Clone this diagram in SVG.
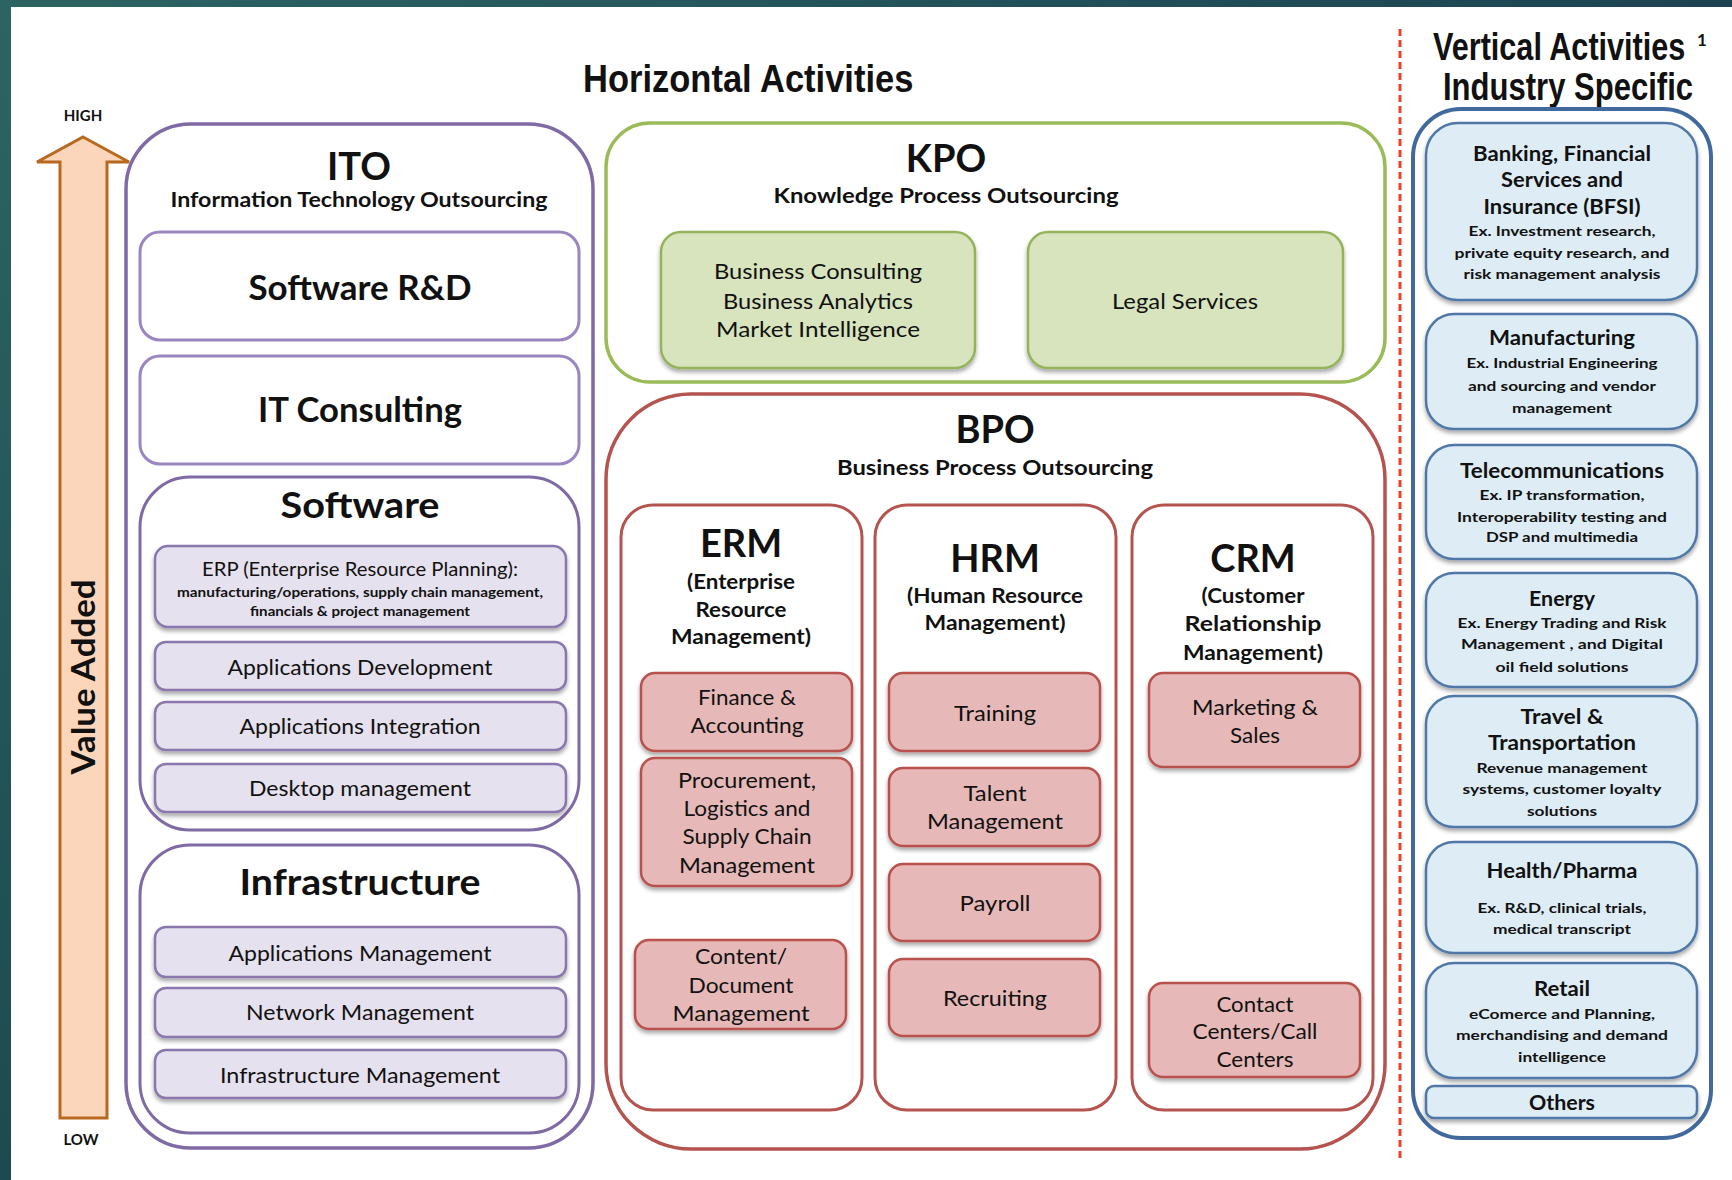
<svg xmlns="http://www.w3.org/2000/svg" width="1732" height="1180" viewBox="0 0 1732 1180">
<defs>
<linearGradient id="band" x1="0" y1="0" x2="1" y2="0"><stop offset="0" stop-color="#2c6463"/><stop offset="1" stop-color="#1c4352"/></linearGradient>
<linearGradient id="bandL" x1="0" y1="0" x2="0" y2="1"><stop offset="0" stop-color="#2c6463"/><stop offset="1" stop-color="#1d4a50"/></linearGradient>
<filter id="sh" x="-10%" y="-10%" width="120%" height="140%"><feDropShadow dx="0" dy="3" stdDeviation="2" flood-color="#000" flood-opacity="0.35"/></filter>
</defs>
<style>
text{font-family:Lato,"Open Sans","Liberation Sans",sans-serif;fill:#111;text-anchor:middle}
.b{font-weight:700}
.n{font-family:"Liberation Sans",Arial,sans-serif;font-weight:700;text-anchor:start;font-size:39px}
.t1{font-size:38px;font-weight:700}
.t2{font-size:20px;font-weight:700}
.r{font-size:21px}
.vt{font-size:20px;font-weight:700}
.vs{font-size:14px;font-weight:700}
.ito{fill:#fff;stroke:#7f6aa5;stroke-width:3.5}
.itc{fill:#fff;stroke:#7f6aa5;stroke-width:3}
.itw{fill:#fff;stroke:#9a86c0;stroke-width:3}
.lav{fill:#e6e1ee;stroke:#8a77ae;stroke-width:2.5;filter:url(#sh)}
.kpo{fill:#fff;stroke:#9bbb59;stroke-width:3.5}
.grn{fill:#d8e4bd;stroke:#94b35a;stroke-width:2.5;filter:url(#sh)}
.bpo{fill:#fff;stroke:#b5534f;stroke-width:3.5}
.bpi{fill:#fff;stroke:#b5534f;stroke-width:3}
.pnk{fill:#e6b9b8;stroke:#b9514d;stroke-width:2.5;filter:url(#sh)}
.vo{fill:#fff;stroke:#41699d;stroke-width:4}
.blu{fill:#deedf5;stroke:#4f78a9;stroke-width:2.5;filter:url(#sh)}
</style>
<rect x="0" y="0" width="1732" height="1180" fill="#fff"/>
<rect x="0" y="0" width="1732" height="7" fill="url(#band)"/>
<rect x="0" y="0" width="11" height="1180" fill="url(#bandL)"/>

<g id="titles">
<text class="n" transform="translate(583,92) scale(0.885,1)">Horizontal Activities</text>
<text class="n" transform="translate(1433,60) scale(0.785,1)">Vertical Activities</text>
<text x="1702" y="46" font-family="Liberation Sans, Arial, sans-serif" font-weight="700" font-size="17">1</text>
<text class="n" transform="translate(1443,100) scale(0.796,1)">Industry Specific</text>
</g>

<g id="value-axis">
<polygon points="83,137 129,162 107,162 107,1118 60,1118 60,162 37,162" fill="#fbd6bb" stroke="#b8691f" stroke-width="3"/>
<text transform="translate(83,677) rotate(-90)" y="12" font-family="Liberation Sans, Arial, sans-serif" font-weight="700" font-size="33" textLength="195" lengthAdjust="spacingAndGlyphs">Value Added</text>
<text class="b" x="83" y="121" font-size="15">HIGH</text>
<text class="b" x="81" y="1145" font-size="15">LOW</text>
</g>

<g id="divider">
<line x1="1400" y1="29" x2="1400" y2="1158" stroke="#e8412c" stroke-width="3" stroke-dasharray="7 4"/>
</g>

<g id="ito">
<rect class="ito" x="126" y="124" width="467" height="1024" rx="65"/>
<text class="t1" x="359" y="180">ITO</text>
<text class="t2" x="359" y="207" textLength="377" lengthAdjust="spacingAndGlyphs">Information Technology Outsourcing</text>
</g>
<g id="software-rd">
<rect class="itw" x="140" y="232" width="439" height="108" rx="20"/>
<text class="b" x="360" y="300" font-size="34" textLength="223" lengthAdjust="spacingAndGlyphs">Software R&amp;D</text>
</g>
<g id="it-consulting">
<rect class="itw" x="140" y="356" width="439" height="108" rx="20"/>
<text class="b" x="360" y="422" font-size="34" textLength="204" lengthAdjust="spacingAndGlyphs">IT Consulting</text>
</g>
<g id="software">
<rect class="itc" x="140" y="477" width="439" height="353" rx="50"/>
<text class="b" x="360" y="518" font-size="37" textLength="159" lengthAdjust="spacingAndGlyphs">Software</text>
</g>
<g id="erp">
<rect class="lav" x="155" y="546" width="411" height="81" rx="13"/>
<text x="360" y="576" font-size="19" textLength="316" lengthAdjust="spacingAndGlyphs">ERP (Enterprise Resource Planning):</text>
<text class="b" x="360" y="597" font-size="12.5" textLength="366" lengthAdjust="spacingAndGlyphs">manufacturing/operations, supply chain management,</text>
<text class="b" x="360" y="616" font-size="12.5" textLength="220" lengthAdjust="spacingAndGlyphs">financials &amp; project management</text>
</g>
<g id="app-dev">
<rect class="lav" x="155" y="642" width="411" height="48" rx="11"/>
<text class="r" x="360" y="675" textLength="265" lengthAdjust="spacingAndGlyphs">Applications Development</text>
</g>
<g id="app-int">
<rect class="lav" x="155" y="702" width="411" height="48" rx="11"/>
<text class="r" x="360" y="734" textLength="241" lengthAdjust="spacingAndGlyphs">Applications Integration</text>
</g>
<g id="desktop">
<rect class="lav" x="155" y="764" width="411" height="48" rx="11"/>
<text class="r" x="360" y="796" textLength="222" lengthAdjust="spacingAndGlyphs">Desktop management</text>
</g>
<g id="infrastructure">
<rect class="itc" x="140" y="845" width="439" height="288" rx="50"/>
<text class="b" x="360" y="895" font-size="37" textLength="241" lengthAdjust="spacingAndGlyphs">Infrastructure</text>
</g>
<g id="app-mgmt">
<rect class="lav" x="155" y="927" width="411" height="50" rx="11"/>
<text class="r" x="360" y="961" textLength="263" lengthAdjust="spacingAndGlyphs">Applications Management</text>
</g>
<g id="net-mgmt">
<rect class="lav" x="155" y="988" width="411" height="49" rx="11"/>
<text class="r" x="360" y="1020" textLength="228" lengthAdjust="spacingAndGlyphs">Network Management</text>
</g>
<g id="infra-mgmt">
<rect class="lav" x="155" y="1050" width="411" height="48" rx="11"/>
<text class="r" x="360" y="1083" textLength="280" lengthAdjust="spacingAndGlyphs">Infrastructure Management</text>
</g>

<g id="kpo">
<rect class="kpo" x="606" y="123" width="779" height="259" rx="44"/>
<text class="t1" x="946" y="172">KPO</text>
<text class="t2" x="946" y="203" textLength="345" lengthAdjust="spacingAndGlyphs">Knowledge Process Outsourcing</text>
</g>
<g id="kpo-business">
<rect class="grn" x="661" y="232" width="314" height="136" rx="20"/>
<text class="r" x="818" y="279" textLength="208" lengthAdjust="spacingAndGlyphs">Business Consulting</text>
<text class="r" x="818" y="309" textLength="190" lengthAdjust="spacingAndGlyphs">Business Analytics</text>
<text class="r" x="818" y="337" textLength="204" lengthAdjust="spacingAndGlyphs">Market Intelligence</text>
</g>
<g id="kpo-legal">
<rect class="grn" x="1028" y="232" width="315" height="136" rx="20"/>
<text class="r" x="1185" y="309" textLength="146" lengthAdjust="spacingAndGlyphs">Legal Services</text>
</g>

<g id="bpo">
<rect class="bpo" x="606" y="394" width="779" height="755" rx="85"/>
<text class="t1" x="995" y="443">BPO</text>
<text class="t2" x="995" y="475" textLength="316" lengthAdjust="spacingAndGlyphs">Business Process Outsourcing</text>
</g>
<g id="erm">
<rect class="bpi" x="621" y="505" width="241" height="605" rx="32"/>
<text class="t1" x="741" y="557">ERM</text>
<text class="t2" x="741" y="589" textLength="108" lengthAdjust="spacingAndGlyphs">(Enterprise</text>
<text class="t2" x="741" y="617" textLength="91" lengthAdjust="spacingAndGlyphs">Resource</text>
<text class="t2" x="741" y="644" textLength="140" lengthAdjust="spacingAndGlyphs">Management)</text>
</g>
<g id="hrm">
<rect class="bpi" x="875" y="505" width="241" height="605" rx="32"/>
<text class="t1" x="995" y="572">HRM</text>
<text class="t2" x="995" y="603" textLength="176" lengthAdjust="spacingAndGlyphs">(Human Resource</text>
<text class="t2" x="995" y="630" textLength="141" lengthAdjust="spacingAndGlyphs">Management)</text>
</g>
<g id="crm">
<rect class="bpi" x="1132" y="505" width="241" height="605" rx="32"/>
<text class="t1" x="1253" y="572">CRM</text>
<text class="t2" x="1253" y="603" textLength="103" lengthAdjust="spacingAndGlyphs">(Customer</text>
<text class="t2" x="1253" y="631" textLength="137" lengthAdjust="spacingAndGlyphs">Relationship</text>
<text class="t2" x="1253" y="660" textLength="140" lengthAdjust="spacingAndGlyphs">Management)</text>
</g>
<g id="finance">
<rect class="pnk" x="641" y="673" width="211" height="78" rx="14"/>
<text class="r" x="747" y="705" textLength="98" lengthAdjust="spacingAndGlyphs">Finance &amp;</text>
<text class="r" x="747" y="733" textLength="113" lengthAdjust="spacingAndGlyphs">Accounting</text>
</g>
<g id="procurement">
<rect class="pnk" x="641" y="758" width="211" height="128" rx="14"/>
<text class="r" x="747" y="788" textLength="138" lengthAdjust="spacingAndGlyphs">Procurement,</text>
<text class="r" x="747" y="816" textLength="127" lengthAdjust="spacingAndGlyphs">Logistics and</text>
<text class="r" x="747" y="844" textLength="129" lengthAdjust="spacingAndGlyphs">Supply Chain</text>
<text class="r" x="747" y="873" textLength="136" lengthAdjust="spacingAndGlyphs">Management</text>
</g>
<g id="content">
<rect class="pnk" x="635" y="940" width="211" height="89" rx="14"/>
<text class="r" x="741" y="964" textLength="92" lengthAdjust="spacingAndGlyphs">Content/</text>
<text class="r" x="741" y="993" textLength="105" lengthAdjust="spacingAndGlyphs">Document</text>
<text class="r" x="741" y="1021" textLength="137" lengthAdjust="spacingAndGlyphs">Management</text>
</g>
<g id="training">
<rect class="pnk" x="889" y="673" width="211" height="78" rx="14"/>
<text class="r" x="995" y="721" textLength="82" lengthAdjust="spacingAndGlyphs">Training</text>
</g>
<g id="talent">
<rect class="pnk" x="889" y="768" width="211" height="78" rx="14"/>
<text class="r" x="995" y="801" textLength="63" lengthAdjust="spacingAndGlyphs">Talent</text>
<text class="r" x="995" y="829" textLength="136" lengthAdjust="spacingAndGlyphs">Management</text>
</g>
<g id="payroll">
<rect class="pnk" x="889" y="864" width="211" height="77" rx="14"/>
<text class="r" x="995" y="911" textLength="71" lengthAdjust="spacingAndGlyphs">Payroll</text>
</g>
<g id="recruiting">
<rect class="pnk" x="889" y="959" width="211" height="77" rx="14"/>
<text class="r" x="995" y="1006" textLength="104" lengthAdjust="spacingAndGlyphs">Recruiting</text>
</g>
<g id="marketing">
<rect class="pnk" x="1149" y="673" width="211" height="94" rx="14"/>
<text class="r" x="1255" y="715" textLength="126" lengthAdjust="spacingAndGlyphs">Marketing &amp;</text>
<text class="r" x="1255" y="743" textLength="50" lengthAdjust="spacingAndGlyphs">Sales</text>
</g>
<g id="contact">
<rect class="pnk" x="1149" y="983" width="211" height="94" rx="14"/>
<text class="r" x="1255" y="1012" textLength="77" lengthAdjust="spacingAndGlyphs">Contact</text>
<text class="r" x="1255" y="1039" textLength="125" lengthAdjust="spacingAndGlyphs">Centers/Call</text>
<text class="r" x="1255" y="1067" textLength="77" lengthAdjust="spacingAndGlyphs">Centers</text>
</g>

<g id="vertical">
<rect class="vo" x="1413" y="109" width="298" height="1029" rx="48"/>
</g>
<g id="bfsi">
<rect class="blu" x="1426" y="123" width="271" height="177" rx="32"/>
<text class="vt" x="1562" y="161" textLength="178" lengthAdjust="spacingAndGlyphs">Banking, Financial</text>
<text class="vt" x="1562" y="187" textLength="122" lengthAdjust="spacingAndGlyphs">Services and</text>
<text class="vt" x="1562" y="214" textLength="157" lengthAdjust="spacingAndGlyphs">Insurance (BFSI)</text>
<text class="vs" x="1562" y="236" textLength="187" lengthAdjust="spacingAndGlyphs">Ex. Investment research,</text>
<text class="vs" x="1562" y="258" textLength="215" lengthAdjust="spacingAndGlyphs">private equity research, and</text>
<text class="vs" x="1562" y="279" textLength="197" lengthAdjust="spacingAndGlyphs">risk management analysis</text>
</g>
<g id="manufacturing">
<rect class="blu" x="1426" y="314" width="271" height="115" rx="28"/>
<text class="vt" x="1562" y="345" textLength="146" lengthAdjust="spacingAndGlyphs">Manufacturing</text>
<text class="vs" x="1562" y="368" textLength="191" lengthAdjust="spacingAndGlyphs">Ex. Industrial Engineering</text>
<text class="vs" x="1562" y="391" textLength="188" lengthAdjust="spacingAndGlyphs">and sourcing and vendor</text>
<text class="vs" x="1562" y="413" textLength="100" lengthAdjust="spacingAndGlyphs">management</text>
</g>
<g id="telecom">
<rect class="blu" x="1426" y="445" width="271" height="114" rx="28"/>
<text class="vt" x="1562" y="478" textLength="204" lengthAdjust="spacingAndGlyphs">Telecommunications</text>
<text class="vs" x="1562" y="500" textLength="165" lengthAdjust="spacingAndGlyphs">Ex. IP transformation,</text>
<text class="vs" x="1562" y="522" textLength="210" lengthAdjust="spacingAndGlyphs">Interoperability testing and</text>
<text class="vs" x="1562" y="542" textLength="152" lengthAdjust="spacingAndGlyphs">DSP and multimedia</text>
</g>
<g id="energy">
<rect class="blu" x="1426" y="573" width="271" height="114" rx="28"/>
<text class="vt" x="1562" y="606" textLength="66" lengthAdjust="spacingAndGlyphs">Energy</text>
<text class="vs" x="1562" y="628" textLength="209" lengthAdjust="spacingAndGlyphs">Ex. Energy Trading and Risk</text>
<text class="vs" x="1562" y="649" textLength="202" lengthAdjust="spacingAndGlyphs">Management , and  Digital</text>
<text class="vs" x="1562" y="672" textLength="133" lengthAdjust="spacingAndGlyphs">oil field solutions</text>
</g>
<g id="travel">
<rect class="blu" x="1426" y="696" width="271" height="131" rx="28"/>
<text class="vt" x="1562" y="724" textLength="83" lengthAdjust="spacingAndGlyphs">Travel &amp;</text>
<text class="vt" x="1562" y="750" textLength="148" lengthAdjust="spacingAndGlyphs">Transportation</text>
<text class="vs" x="1562" y="773" textLength="171" lengthAdjust="spacingAndGlyphs">Revenue management</text>
<text class="vs" x="1562" y="794" textLength="199" lengthAdjust="spacingAndGlyphs">systems, customer loyalty</text>
<text class="vs" x="1562" y="816" textLength="70" lengthAdjust="spacingAndGlyphs">solutions</text>
</g>
<g id="health">
<rect class="blu" x="1426" y="842" width="271" height="111" rx="28"/>
<text class="vt" x="1562" y="878" textLength="151" lengthAdjust="spacingAndGlyphs">Health/Pharma</text>
<text class="vs" x="1562" y="913" textLength="169" lengthAdjust="spacingAndGlyphs">Ex. R&amp;D, clinical trials,</text>
<text class="vs" x="1562" y="934" textLength="138" lengthAdjust="spacingAndGlyphs">medical transcript</text>
</g>
<g id="retail">
<rect class="blu" x="1426" y="963" width="271" height="115" rx="28"/>
<text class="vt" x="1562" y="996" textLength="56" lengthAdjust="spacingAndGlyphs">Retail</text>
<text class="vs" x="1562" y="1019" textLength="186" lengthAdjust="spacingAndGlyphs">eComerce and Planning,</text>
<text class="vs" x="1562" y="1040" textLength="212" lengthAdjust="spacingAndGlyphs">merchandising and demand</text>
<text class="vs" x="1562" y="1062" textLength="88" lengthAdjust="spacingAndGlyphs">intelligence</text>
</g>
<g id="others">
<rect class="blu" x="1426" y="1086" width="271" height="32" rx="8"/>
<text class="vt" x="1562" y="1110" textLength="66" lengthAdjust="spacingAndGlyphs">Others</text>
</g>
<g id="connectors"/>
</svg>
